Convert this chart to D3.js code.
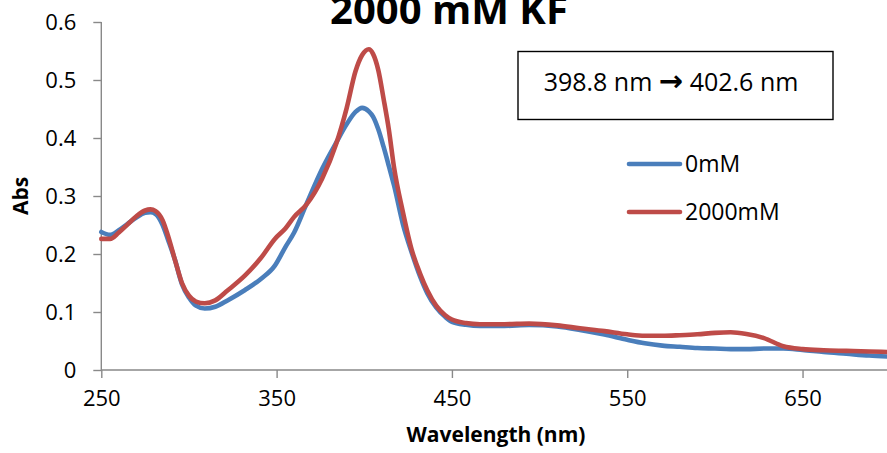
<!DOCTYPE html>
<html>
<head>
<meta charset="utf-8">
<script src="https://cdn.jsdelivr.net/npm/d3@7/dist/d3.min.js"></script>
<style>
  html, body { margin: 0; padding: 0; background: #fff; }
  svg { display: block; }
  text { font-family: "Open Sans", "DejaVu Sans", sans-serif; fill: #000; }
</style>
</head>
<body>
<svg id="chart" width="887" height="453"></svg>
<script>
// Absorbance spectra, wavelength in nm
const wavelengths = [250, 255, 260, 265, 270, 275, 278, 281, 285, 288, 292, 296, 300, 304, 309, 315, 322, 332, 341, 349, 355, 360, 367, 376, 384, 390, 395, 398.8, 402.6, 405, 408, 411, 414, 417, 422, 427, 432, 436, 441, 446, 450, 458, 466, 480, 494, 510, 523, 537, 550, 560, 570, 580, 590, 600, 609, 618, 628, 639, 650, 662, 675, 688, 700];

const abs0mM = [0.238, 0.233, 0.241, 0.252, 0.263, 0.271, 0.272, 0.269, 0.250, 0.225, 0.190, 0.148, 0.125, 0.111, 0.106, 0.109, 0.120, 0.138, 0.157, 0.180, 0.212, 0.237, 0.286, 0.347, 0.392, 0.424, 0.445, 0.452, 0.446, 0.437, 0.415, 0.385, 0.352, 0.318, 0.252, 0.203, 0.160, 0.132, 0.108, 0.092, 0.083, 0.078, 0.076, 0.076, 0.0776, 0.075, 0.069, 0.061, 0.052, 0.046, 0.042, 0.040, 0.038, 0.037, 0.036, 0.036, 0.037, 0.037, 0.0345, 0.031, 0.028, 0.025, 0.023];

const abs2000mM = [0.226, 0.226, 0.237, 0.251, 0.265, 0.275, 0.277, 0.274, 0.258, 0.232, 0.190, 0.150, 0.128, 0.118, 0.115, 0.120, 0.137, 0.163, 0.193, 0.226, 0.244, 0.264, 0.285, 0.330, 0.390, 0.452, 0.515, 0.543, 0.553, 0.545, 0.517, 0.468, 0.415, 0.349, 0.273, 0.208, 0.165, 0.137, 0.111, 0.095, 0.087, 0.081, 0.079, 0.079, 0.080, 0.077, 0.072, 0.067, 0.0615, 0.059, 0.059, 0.060, 0.0615, 0.064, 0.065, 0.062, 0.055, 0.041, 0.036, 0.034, 0.033, 0.032, 0.031];

const xTicks = [250, 350, 450, 550, 650];
const yTicks = [0, 0.1, 0.2, 0.3, 0.4, 0.5, 0.6];

const series = [
  { name: "0mM", values: abs0mM, color: "#4a7ebb" },
  { name: "2000mM", values: abs2000mM, color: "#be4b48" }
];

const svg = d3.select("#chart");
const x = d3.scaleLinear().domain([250, 700]).range([101.3, 890.2]);
const y = d3.scaleLinear().domain([0, 0.6]).range([370, 22]);
const axisColor = "#898989";

// Axes
const xAxis = svg.append("g").attr("transform", "translate(0,370)")
  .call(d3.axisBottom(x).tickValues(xTicks).tickSize(8).tickPadding(12).tickFormat(d3.format("d")));
const yAxis = svg.append("g").attr("transform", "translate(101.3,0)")
  .call(d3.axisLeft(y).tickValues(yTicks).tickSize(8).tickPadding(17).tickFormat(d => d === 0 ? "0" : d3.format(".1f")(d)));

[xAxis, yAxis].forEach(g => {
  g.select(".domain").attr("stroke", axisColor).attr("stroke-width", 1.4);
  g.selectAll(".tick line").attr("stroke", axisColor).attr("stroke-width", 1.4);
  g.selectAll(".tick text").attr("font-size", 22).attr("fill", "#000")
    .attr("font-family", "'Open Sans', sans-serif");
});
xAxis.select(".domain").attr("d", `M${x(250)},0H887`);
yAxis.select(".domain").attr("d", `M0,${y(0.6)}V${y(0)}`);

// Spectra
const line = d3.line()
  .x((d, i) => x(wavelengths[i]))
  .y(d => y(d))
  .curve(d3.curveMonotoneX);

series.forEach(s => {
  svg.append("path")
    .datum(s.values)
    .attr("fill", "none")
    .attr("stroke", s.color)
    .attr("stroke-width", 4.6)
    .attr("stroke-linejoin", "round")
    .attr("stroke-linecap", "round")
    .attr("d", line);
});

// Title
svg.append("text")
  .attr("x", 449).attr("y", 24)
  .attr("text-anchor", "middle")
  .attr("font-size", 40).attr("font-weight", "bold")
  .text("2000 mM KF");

// Axis titles
svg.append("text")
  .attr("x", 496).attr("y", 442)
  .attr("text-anchor", "middle")
  .attr("font-size", 21).attr("font-weight", "bold")
  .text("Wavelength (nm)");

svg.append("text")
  .attr("transform", "translate(28,196) rotate(-90)")
  .attr("text-anchor", "middle")
  .attr("font-size", 21).attr("font-weight", "bold")
  .text("Abs");

// Peak shift annotation
svg.append("rect")
  .attr("x", 518).attr("y", 51.5)
  .attr("width", 315).attr("height", 68)
  .attr("fill", "#fff").attr("stroke", "#000").attr("stroke-width", 1.4);
const note = svg.append("text")
  .attr("x", 671).attr("y", 91)
  .attr("text-anchor", "middle")
  .attr("font-size", 25);
note.append("tspan").text("398.8 nm ");
note.append("tspan").attr("font-family", "'DejaVu Sans', sans-serif")
  .attr("font-size", 29).attr("font-weight", "bold").text("\u2192");
note.append("tspan").text(" 402.6 nm");

// Legend
const legend = svg.append("g");
series.forEach((s, i) => {
  const ly = 164 + i * 48;
  legend.append("line")
    .attr("x1", 629).attr("x2", 680)
    .attr("y1", ly).attr("y2", ly)
    .attr("stroke", s.color).attr("stroke-width", 4.6)
    .attr("stroke-linecap", "round");
  legend.append("text")
    .attr("x", 685).attr("y", ly + 8)
    .attr("font-size", 23)
    .text(s.name);
});
</script>
</body>
</html>
